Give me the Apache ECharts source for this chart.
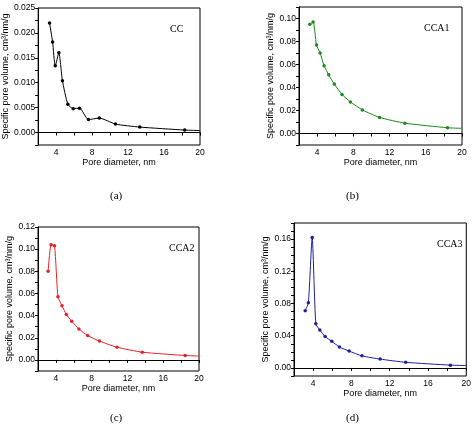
<!DOCTYPE html><html><head><meta charset="utf-8"><script src="https://cdn.jsdelivr.net/npm/echarts@6/dist/echarts.min.js"></script>
<style>html,body{margin:0;background:#fff}#c{width:474px;height:431px}</style></head><body><div id="c"></div><script>
const ccX=[3.27,3.6,3.9,4.3,4.7,5.3,5.9,6.6,7.6,8.8,10.6,13.3,18.3,20];
const ccY=[0.022,0.0182,0.0134,0.016,0.0104,0.0057,0.0048,0.0049,0.0026,0.0029,0.0017,0.0011,0.0005,0.0004];
const cca1X=[3.2,3.56,3.93,4.33,4.77,5.28,5.9,6.75,7.67,9.0,10.9,13.7,18.4,20];
const cca1Y=[0.095,0.097,0.077,0.070,0.059,0.051,0.043,0.034,0.0275,0.0205,0.014,0.009,0.005,0.0045];
const cca2X=[3.13,3.47,3.85,4.23,4.68,5.17,5.77,6.57,7.55,8.87,10.83,13.66,18.45,20];
const cca2Y=[0.080,0.104,0.103,0.057,0.049,0.041,0.035,0.028,0.022,0.017,0.0115,0.007,0.004,0.0035];
const cca3X=[3.17,3.5,3.9,4.28,4.7,5.25,5.95,6.75,7.76,9.1,11.0,13.67,18.35,20];
const cca3Y=[0.071,0.081,0.162,0.055,0.047,0.039,0.033,0.026,0.021,0.015,0.011,0.007,0.0035,0.003];
const names=['CC','CCA1','CCA2','CCA3'];
const colors=['#000000','#1a8a1a','#e8202a','#1e1ea0'];
const panels=[
 {x:ccX,y:ccY,g:{left:37,top:8,width:163,height:137},ymin:-0.0025,ymax:0.025,yi:0.0025,lab:0.005,dec:3},
 {x:cca1X,y:cca1Y,g:{left:299,top:7,width:163,height:138},ymin:-0.01,ymax:0.11,yi:0.01,lab:0.02,dec:2},
 {x:cca2X,y:cca2Y,g:{left:38,top:227,width:161,height:144},ymin:-0.01,ymax:0.12,yi:0.01,lab:0.02,dec:2},
 {x:cca3X,y:cca3Y,g:{left:294,top:223,width:173,height:153},ymin:-0.01,ymax:0.18,yi:0.01,lab:0.04,dec:2}
];
const ax={axisLine:{lineStyle:{color:'#000',width:1}},axisTick:{length:3,lineStyle:{color:'#000'}},splitLine:{show:false},axisLabel:{color:'#000',fontSize:8.5,fontFamily:'Liberation Sans',margin:3}};
const opt={animation:false,grid:[],xAxis:[],yAxis:[],series:[],graphic:[]};
panels.forEach((p,i)=>{
 opt.grid.push(Object.assign({show:true,borderColor:'#000',borderWidth:1},p.g));
 opt.xAxis.push(Object.assign({},ax,{type:'value',gridIndex:i,min:2,max:20,interval:2,
  axisLabel:Object.assign({},ax.axisLabel,{formatter:v=>v%4===0?String(v):''}),
  name:'Pore diameter, nm',nameLocation:'middle',nameGap:12,nameTextStyle:{fontSize:9,fontFamily:'Liberation Sans',color:'#000'}}));
 opt.yAxis.push(Object.assign({},ax,{type:'value',gridIndex:i,min:p.ymin,max:p.ymax,interval:p.yi,
  axisLabel:Object.assign({},ax.axisLabel,{formatter:v=>{const r=Math.round(v/p.lab*1000)/1000;return (Math.abs(r-Math.round(r))<1e-6&&v>=-1e-9)?v.toFixed(p.dec):'';}}),
  name:'Specific pore volume, cm³/nm/g',nameLocation:'middle',nameGap:p.dec===3?28:24,nameTextStyle:{fontSize:9,fontFamily:'Liberation Sans',color:'#000'}}));
 opt.series.push({type:'line',xAxisIndex:i,yAxisIndex:i,smooth:0.2,data:p.x.map((x,j)=>({value:[x,p.y[j]],symbol:j===p.x.length-1?'none':'circle'})),
  symbolSize:3.5,lineStyle:{color:colors[i],width:1},itemStyle:{color:colors[i]}});
 opt.graphic.push({type:'text',left:p.g.left+p.g.width-30-(i==1?8:0),top:p.g.top+16,style:{text:names[i],fontFamily:'Liberation Serif',fontSize:10,fill:'#000'}});
});
opt.graphic.push({type:'text',left:110,top:191,style:{text:'(a)',font:'11px Liberation Serif',fill:'#000'}});
opt.graphic.push({type:'text',left:346,top:191,style:{text:'(b)',font:'11px Liberation Serif',fill:'#000'}});
opt.graphic.push({type:'text',left:110,top:413,style:{text:'(c)',font:'11px Liberation Serif',fill:'#000'}});
opt.graphic.push({type:'text',left:346,top:413,style:{text:'(d)',font:'11px Liberation Serif',fill:'#000'}});
echarts.init(document.getElementById('c')).setOption(opt);
</script></body></html>
